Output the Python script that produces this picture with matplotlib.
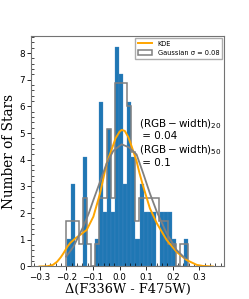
import numpy as np
import matplotlib
matplotlib.use('Agg')
import matplotlib.pyplot as plt
from matplotlib.ticker import MultipleLocator

# histogram of the observed colour spread (counts per bin)
bin_start = -0.198
bin_width = 0.01517
blue_counts = np.array([1, 3, 0, 0, 4, 0, 0, 1, 6, 2, 5, 2, 8, 7, 3,
                        6, 4, 1, 3, 2, 2, 2, 0, 2, 2, 2, 1, 0, 0, 1])
blue_unit = 1.03   # height of one star in the normalised histogram

# simulated gaussian sample, sigma = 0.08
gray_start = -0.199
gray_counts = np.array([2, 2, 2, 1, 3, 1, 0, 1, 3, 3, 6, 3, 8, 8, 8,
                        7, 5, 2, 3, 3, 3, 3, 3, 2, 2, 1, 1, 0, 1, 1])
gray_unit = 0.858

# KDE of the data
kde_x = [-0.30, -0.27, -0.25, -0.234, -0.22, -0.21, -0.195, -0.185, -0.165, -0.148,
         -0.123, -0.098, -0.073, -0.048, -0.03, -0.015, 0.0, 0.008, 0.02, 0.033,
         0.046, 0.064, 0.075, 0.089, 0.114, 0.14, 0.177, 0.214, 0.252, 0.29, 0.313, 0.35]
kde_y = [0.0, 0.01, 0.06, 0.18, 0.35, 0.5, 0.75, 0.88, 1.06, 1.18,
         1.37, 1.87, 2.74, 3.87, 4.37, 4.8, 5.05, 5.12, 5.08, 4.85,
         4.49, 3.95, 3.5, 3.0, 2.18, 1.62, 0.99, 0.55, 0.24, 0.06, 0.02, 0.0]

# smooth curve of the gaussian sample
gcurve_x = [-0.2, -0.173, -0.136, -0.115, -0.098, -0.073, -0.048, -0.023, 0.008,
            0.035, 0.064, 0.089, 0.114, 0.14, 0.177, 0.214, 0.246]
gcurve_y = [0.37, 0.74, 1.49, 2.0, 2.49, 3.18, 3.87, 4.34, 4.58,
            4.47, 4.2, 3.49, 2.74, 2.05, 1.24, 0.62, 0.31]

width_20 = 0.04
width_50 = 0.1

blue_edges = bin_start + bin_width * np.arange(len(blue_counts) + 1)
gray_edges = gray_start + bin_width * np.arange(len(gray_counts) + 1)

fig = plt.figure(figsize=(2.49, 2.99), dpi=100)
ax = fig.add_axes([0.1245, 0.1087, 0.7751, 0.7709])

ax.hist(blue_edges[:-1], bins=blue_edges, weights=blue_counts * blue_unit,
        color='#1f77b4', edgecolor='#4a8cc4', linewidth=0.2)
_, _, gpatch = ax.hist(gray_edges[:-1], bins=gray_edges, weights=gray_counts * gray_unit,
                       histtype='step', color='gray', linewidth=1.1,
                       label='Gaussian σ = 0.08')
kline, = ax.plot(kde_x, kde_y, color='orange', lw=1.4, label='KDE')
ax.plot(gcurve_x, gcurve_y, color='gray', lw=1.3)

ax.text(0.074, 5.15, '$\\mathrm{(RGB-width)}_{20}$\n = %.2f' % width_20, fontsize=7.5,
        va='center', ha='left', linespacing=1.1)
ax.text(0.074, 4.15, '$\\mathrm{(RGB-width)}_{50}$\n = %.1f' % width_50, fontsize=7.5,
        va='center', ha='left', linespacing=1.1)

ax.set_xlim(-0.332, 0.392)
ax.set_ylim(0, 8.64)
ax.xaxis.set_major_locator(MultipleLocator(0.1))
ax.xaxis.set_minor_locator(MultipleLocator(0.02))
ax.yaxis.set_major_locator(MultipleLocator(1))
ax.yaxis.set_minor_locator(MultipleLocator(0.2))
ax.tick_params(which='major', direction='out', length=3, width=0.6, labelsize=6.3, pad=1.5)
ax.tick_params(which='minor', direction='in', length=2, width=0.5)
for s in ax.spines.values():
    s.set_color('0.45')
    s.set_linewidth(0.8)

ax.set_xlabel('Δ(F336W - F475W)', family='DejaVu Serif', fontsize=9.3, labelpad=1)
ax.set_ylabel('Number of Stars', family='DejaVu Serif', fontsize=9.8, labelpad=2)

ax.legend([kline, gpatch[0]], ['KDE', 'Gaussian σ = 0.08'], loc='upper right',
          fontsize=4.8, frameon=True, fancybox=False, edgecolor='0.6',
          borderaxespad=0.3, handlelength=2.2)

fig.savefig('out.png', dpi=100)
